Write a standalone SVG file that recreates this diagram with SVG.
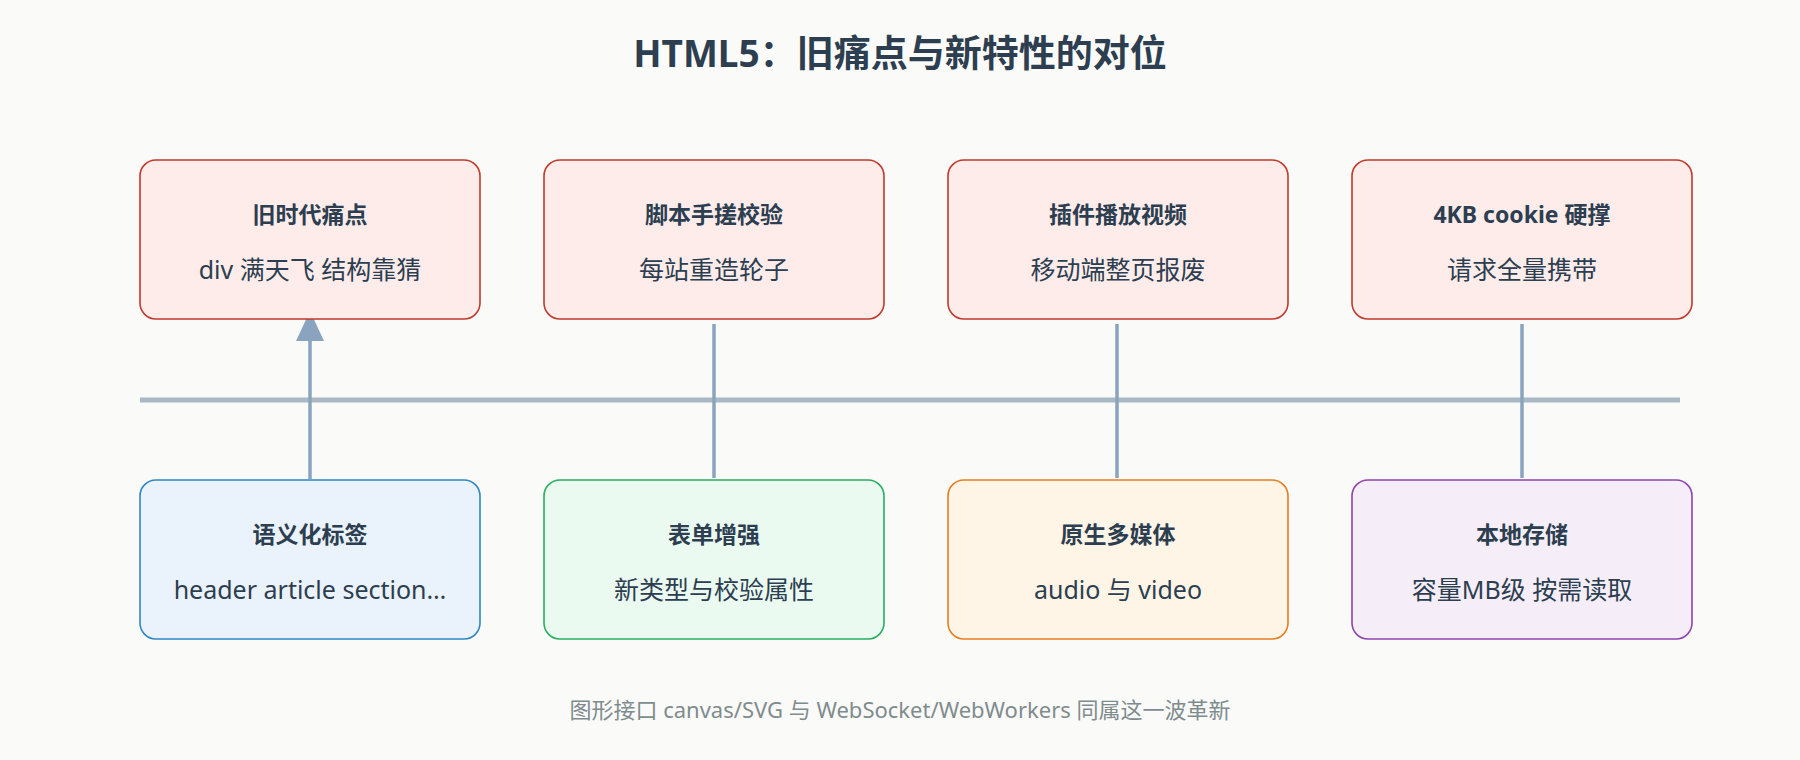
<svg xmlns="http://www.w3.org/2000/svg" width="1800" height="760" viewBox="0 0 1800 760">
<style>
text{font-family:"Noto Sans","Noto Sans CJK SC",sans-serif;fill:#2c3e50;text-anchor:middle}
.t{font-size:23px;font-weight:bold}
.s{font-size:25px}
.old rect{fill:#fdecea;stroke:#c0392b;stroke-width:1.6}
.c{stroke:#8aa4bf;stroke-width:3.5;fill:none}
</style>
<defs><marker id="a" markerWidth="10" markerHeight="8" refX="9" refY="4" orient="auto" markerUnits="userSpaceOnUse" viewBox="0 0 10 8"><path d="M0,0L10,4L0,8z" fill="#8aa4bf"/></marker>
<marker id="ar" viewBox="0 0 30 28" markerWidth="30" markerHeight="28" refX="29" refY="14" orient="auto" markerUnits="userSpaceOnUse"><path d="M0,0L30,14L0,28z" fill="#8aa4bf"/></marker></defs>
<rect width="1800" height="760" fill="#fafaf8"/>
<text x="900" y="67" style="font-size:37px;font-weight:bold">HTML5：旧痛点与新特性的对位</text>
<g id="connectors">
<line x1="140" y1="400" x2="1680" y2="400" stroke="#aab7c4" stroke-width="5"/>
<line class="c" x1="310" y1="479" x2="310" y2="312" marker-end="url(#ar)"/>
<line class="c" x1="714" y1="324" x2="714" y2="478"/>
<line class="c" x1="1117" y1="324" x2="1117" y2="478"/>
<line class="c" x1="1522" y1="324" x2="1522" y2="478"/>
</g>
<g id="old1" class="old"><rect x="140" y="160" width="340" height="159" rx="16"/><text class="t" x="310" y="223">旧时代痛点</text><text class="s" x="310" y="279">div 满天飞 结构靠猜</text></g>
<g id="old2" class="old"><rect x="544" y="160" width="340" height="159" rx="16"/><text class="t" x="714" y="223">脚本手搓校验</text><text class="s" x="714" y="279">每站重造轮子</text></g>
<g id="old3" class="old"><rect x="948" y="160" width="340" height="159" rx="16"/><text class="t" x="1118" y="223">插件播放视频</text><text class="s" x="1118" y="279">移动端整页报废</text></g>
<g id="old4" class="old"><rect x="1352" y="160" width="340" height="159" rx="16"/><text class="t" x="1522" y="223">4KB cookie 硬撑</text><text class="s" x="1522" y="279">请求全量携带</text></g>
<g id="new1"><rect x="140" y="480" width="340" height="159" rx="16" fill="#eaf2fb" stroke="#2e86c1" stroke-width="1.6"/><text class="t" x="310" y="543">语义化标签</text><text class="s" x="310" y="599">header article section…</text></g>
<g id="new2"><rect x="544" y="480" width="340" height="159" rx="16" fill="#eafaf1" stroke="#27ae60" stroke-width="1.6"/><text class="t" x="714" y="543">表单增强</text><text class="s" x="714" y="599">新类型与校验属性</text></g>
<g id="new3"><rect x="948" y="480" width="340" height="159" rx="16" fill="#fef5e7" stroke="#e67e22" stroke-width="1.6"/><text class="t" x="1118" y="543">原生多媒体</text><text class="s" x="1118" y="599">audio 与 video</text></g>
<g id="new4"><rect x="1352" y="480" width="340" height="159" rx="16" fill="#f5eef8" stroke="#8e44ad" stroke-width="1.6"/><text class="t" x="1522" y="543">本地存储</text><text class="s" x="1522" y="599">容量MB级 按需读取</text></g>
<text x="900" y="718" style="font-size:22px;fill:#7f8c8d">图形接口 canvas/SVG 与 WebSocket/WebWorkers 同属这一波革新</text>
</svg>
